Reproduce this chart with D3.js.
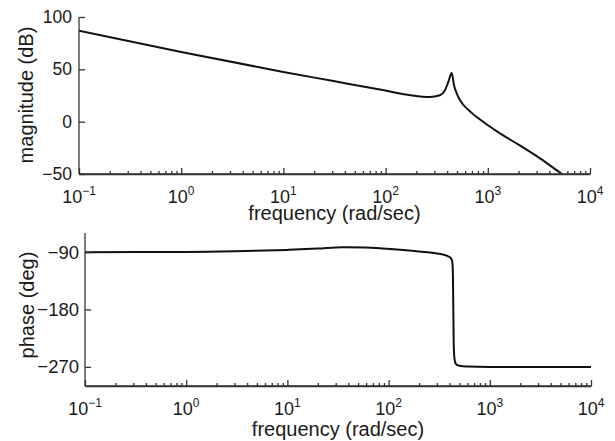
<!DOCTYPE html>
<html>
<head>
<meta charset="utf-8">
<script src="https://cdn.jsdelivr.net/npm/d3@7"></script>
<style>
  body { margin: 0; background: #fff; }
  svg { display: block; }
  text { font-family: "Liberation Sans", Arial, Helvetica, sans-serif; fill: #1a1a1a; }
  .axis path, .axis line { stroke: #333; stroke-width: 1.3; }
</style>
</head>
<body>
<script>
// magnitude curve
var magFreq = [0.1, 1, 10, 30, 88, 170, 270, 340, 381, 411, 444, 467, 497, 535, 650, 840, 1260, 2000, 3240, 5320, 10000];
var magDb = [87, 66.5, 47.5, 39, 30.7, 25.5, 23.5, 25.2, 30, 38, 46.6, 34.8, 26.9, 20.4, 11, 2, -10, -22, -35, -50, -68];

// phase curve
var phFreq = [0.1, 1, 3, 10, 20, 35, 60, 120, 200, 300, 380, 410, 425, 432, 436, 440, 447, 460, 490, 600, 1000, 10000];
var phDeg = [-90, -89.8, -88.8, -86.5, -84.5, -82.3, -82.8, -86, -89, -92, -96, -99, -104, -125, -180, -235, -256, -265, -268, -269.5, -270, -270];

var decades = [-1, 0, 1, 2, 3, 4];
var magTicks = [-50, 0, 50, 100];
var phTicks = [-270, -180, -90];

var W = 615, H = 441;
var svg = d3.select("body").append("svg")
	.attr("width", W)
	.attr("height", H);

// minor ticks 2..9 in each decade
var minorTicks = [];
decades.slice(0, -1).forEach(function(e) {
	for (var k = 2; k <= 9; k++) minorTicks.push(k * Math.pow(10, e));
});

function fmtNum(v) {
	return v < 0 ? "\u2212" + Math.abs(v) : String(v);
}

function drawPanel(opt) {
	var x = d3.scaleLog().domain([0.1, 10000]).range([opt.left, opt.right]);
	var y = d3.scaleLinear().domain(opt.yDomain).range([opt.bottom, opt.top]);

	var g = svg.append("g");

	// clip so the curve stops at the axes
	var clipId = "clip" + opt.name;
	svg.append("clipPath").attr("id", clipId)
		.append("rect")
		.attr("x", opt.left).attr("y", opt.top - 2)
		.attr("width", opt.right - opt.left + 2)
		.attr("height", opt.bottom - opt.top + 2);

	var line = d3.line()
		.x(function(d) { return x(d[0]); })
		.y(function(d) { return y(d[1]); })
		.curve(d3.curveMonotoneX);

	g.append("path")
		.datum(d3.zip(opt.freq, opt.vals))
		.attr("clip-path", "url(#" + clipId + ")")
		.attr("fill", "none")
		.attr("stroke", "#111")
		.attr("stroke-width", 2)
		.attr("d", line);

	// x axis: minor ticks
	g.append("g")
		.attr("class", "axis")
		.attr("transform", "translate(0," + opt.bottom + ")")
		.call(d3.axisBottom(x).tickValues(minorTicks).tickSize(-3).tickSizeOuter(0).tickFormat(""));

	// x axis: decades
	var xa = g.append("g")
		.attr("class", "axis")
		.attr("transform", "translate(0," + opt.bottom + ")")
		.call(d3.axisBottom(x).tickValues(decades.map(function(e) { return Math.pow(10, e); }))
			.tickSize(-6).tickSizeOuter(0).tickFormat(""));
	xa.selectAll(".tick text").remove();

	var lab = g.append("g");
	decades.forEach(function(e) {
		var t = lab.append("text")
			.attr("x", x(Math.pow(10, e)))
			.attr("y", opt.bottom + 29)
			.attr("text-anchor", "middle")
			.style("font-size", "18px");
		t.append("tspan").text("10");
		t.append("tspan")
			.attr("dy", -8)
			.style("font-size", "12px")
			.text(fmtNum(e));
	});

	// y axis
	var ya = g.append("g")
		.attr("class", "axis")
		.attr("transform", "translate(" + opt.left + ",0)")
		.call(d3.axisLeft(y).tickValues(opt.yTicks).tickSize(-6).tickSizeOuter(0).tickPadding(opt.yPad)
			.tickFormat(fmtNum));
	ya.selectAll(".tick text")
		.style("font-size", opt.yFont)
		.style("font-family", "Liberation Sans, Arial, sans-serif")
		.attr("fill", "#1a1a1a");
	ya.select(".domain").attr("d", "M0," + opt.top + "V" + opt.bottom);
	xa.select(".domain").attr("d", "M" + opt.left + ",0H" + opt.right);

	// axis titles
	g.append("text")
		.attr("x", (opt.left + opt.right) / 2)
		.attr("y", opt.bottom + opt.xLabelDy)
		.attr("text-anchor", "middle")
		.style("font-size", "20px")
		.text("frequency (rad/sec)");

	g.append("text")
		.attr("transform", "translate(" + opt.yLabelX + "," + opt.yLabelY + ") rotate(-90)")
		.attr("text-anchor", "middle")
		.style("font-size", "20px")
		.text(opt.yLabel);
}

drawPanel({
	name: "mag",
	left: 79, right: 590, top: 17, bottom: 174,
	yDomain: [-50, 100],
	yTicks: magTicks,
	yFont: "17.5px",
	yPad: 7,
	freq: magFreq, vals: magDb,
	xLabelDy: 46,
	yLabel: "magnitude (dB)",
	yLabelX: 33,
	yLabelY: 95
});

drawPanel({
	name: "ph",
	left: 85, right: 591, top: 233, bottom: 386,
	yDomain: [-300, -60],
	yTicks: phTicks,
	yFont: "18.5px",
	yPad: 6,
	freq: phFreq, vals: phDeg,
	xLabelDy: 50,
	yLabel: "phase (deg)",
	yLabelX: 34,
	yLabelY: 305
});
</script>
</body>
</html>
